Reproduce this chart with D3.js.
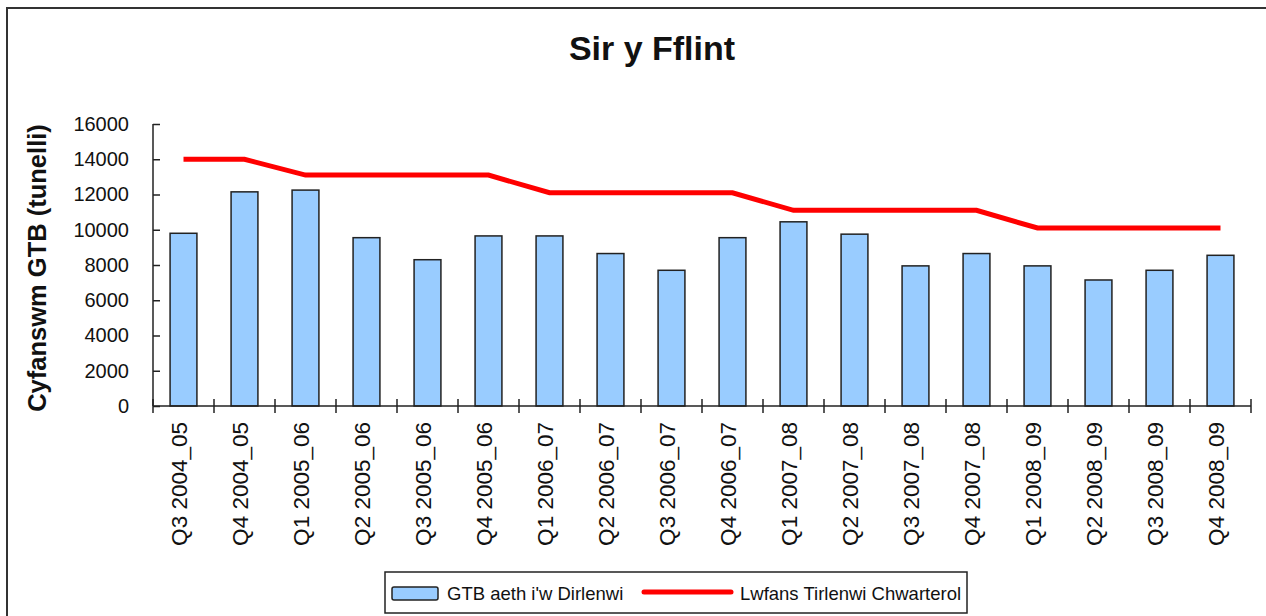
<!DOCTYPE html>
<html>
<head>
<meta charset="utf-8">
<script src="https://cdn.jsdelivr.net/npm/d3@7"></script>
<style>
  body { margin: 0; background: #fff; }
  svg text { font-family: "Liberation Sans", Arial, sans-serif; fill: #111; }
</style>
</head>
<body>
<div id="chart"></div>
<script>
// quarters on the x axis
var quarters = [
  "Q3 2004_05", "Q4 2004_05", "Q1 2005_06", "Q2 2005_06", "Q3 2005_06", "Q4 2005_06",
  "Q1 2006_07", "Q2 2006_07", "Q3 2006_07", "Q4 2006_07", "Q1 2007_08", "Q2 2007_08",
  "Q3 2007_08", "Q4 2007_08", "Q1 2008_09", "Q2 2008_09", "Q3 2008_09", "Q4 2008_09"
];

// GTB sent to landfill (bars)
var gtbValues = [9800, 12150, 12250, 9550, 8300, 9650, 9650, 8650, 7700,
                 9550, 10450, 9750, 7950, 8650, 7950, 7150, 7700, 8550];

// quarterly landfill allowance (red line)
var allowanceValues = [14000, 14000, 13100, 13100, 13100, 13100, 12100, 12100, 12100,
                       12100, 11100, 11100, 11100, 11100, 10100, 10100, 10100, 10100];

var yTicks = [0, 2000, 4000, 6000, 8000, 10000, 12000, 14000, 16000];

var width = 1266, height = 616;
var margin = { top: 124, right: 15, bottom: 210, left: 153 };
var plotW = 1251 - margin.left, plotH = 406 - margin.top;

var svg = d3.select("#chart").append("svg")
  .attr("width", width)
  .attr("height", height);

// outer frame (right and bottom run off the picture)
svg.append("rect")
  .attr("x", 7).attr("y", 8)
  .attr("width", 1300).attr("height", 700)
  .attr("fill", "none").attr("stroke", "#333").attr("stroke-width", 2);

// title
svg.append("text")
  .attr("x", 652).attr("y", 60)
  .attr("text-anchor", "middle")
  .style("font-size", "34px").style("font-weight", "bold")
  .text("Sir y Fflint");

var g = svg.append("g")
  .attr("transform", "translate(" + margin.left + "," + margin.top + ")");

// scales
var x = d3.scaleBand().domain(quarters).range([0, plotW]).padding(0);
var y = d3.scaleLinear().domain([0, 16000]).range([plotH, 0]);
var barW = x.bandwidth() * 0.44;

// bars
g.selectAll("rect.bar")
  .data(gtbValues)
  .join("rect")
  .attr("class", "bar")
  .attr("x", (d, i) => x(quarters[i]) + (x.bandwidth() - barW) / 2)
  .attr("y", d => y(d))
  .attr("width", barW)
  .attr("height", d => plotH - y(d))
  .attr("fill", "#99ccff")
  .attr("stroke", "#222")
  .attr("stroke-width", 1.5);

// allowance line
g.append("path")
  .datum(allowanceValues)
  .attr("fill", "none")
  .attr("stroke", "#ff0000")
  .attr("stroke-width", 5)
  .attr("d", d3.line()
    .x((d, i) => x(quarters[i]) + x.bandwidth() / 2)
    .y(d => y(d)));

// y axis
var yAxis = d3.axisLeft(y).tickValues(yTicks).tickSize(7).tickPadding(17)
  .tickFormat(d3.format("d"));
var yG = g.append("g").attr("class", "y-axis").call(yAxis);
yG.selectAll(".tick line").attr("x2", 7);
yG.select(".domain").attr("d", "M0," + plotH + "V0");
yG.selectAll("line, path").attr("stroke", "#222").attr("stroke-width", 1.5);
yG.selectAll("text")
  .style("font-size", "20px")
  .style("font-family", "'Liberation Sans', Arial, sans-serif")
  .attr("fill", "#111");

// x axis, ticks at category boundaries crossing the axis
var xG = g.append("g").attr("class", "x-axis")
  .attr("transform", "translate(0," + plotH + ")");
xG.append("line")
  .attr("x1", 0).attr("x2", plotW)
  .attr("stroke", "#222").attr("stroke-width", 1.5);
xG.selectAll("line.tick")
  .data(d3.range(quarters.length + 1))
  .join("line")
  .attr("class", "tick")
  .attr("x1", i => i * x.step()).attr("x2", i => i * x.step())
  .attr("y1", -7).attr("y2", 7)
  .attr("stroke", "#222").attr("stroke-width", 1.5);

xG.selectAll("text.label")
  .data(quarters)
  .join("text")
  .attr("class", "label")
  .attr("text-anchor", "end")
  .attr("transform", d => "translate(" + (x(d) + x.bandwidth() / 2 + 3) + ",16) rotate(-90)")
  .style("font-size", "22.5px")
  .text(d => d);

// y axis label
svg.append("text")
  .attr("transform", "translate(46,268) rotate(-90)")
  .attr("text-anchor", "middle")
  .style("font-size", "25.5px").style("font-weight", "bold")
  .text("Cyfanswm GTB (tunelli)");

// legend
var legend = svg.append("g").attr("class", "legend");
legend.append("rect")
  .attr("x", 385).attr("y", 572).attr("width", 582).attr("height", 41)
  .attr("fill", "#fff").attr("stroke", "#222").attr("stroke-width", 1.5);
legend.append("rect")
  .attr("x", 392).attr("y", 587).attr("width", 46).attr("height", 13)
  .attr("rx", 2)
  .attr("fill", "#99ccff").attr("stroke", "#222").attr("stroke-width", 1.5);
legend.append("text")
  .attr("x", 447).attr("y", 600)
  .style("font-size", "18.5px")
  .text("GTB aeth i'w Dirlenwi");
legend.append("line")
  .attr("x1", 644).attr("x2", 731).attr("y1", 592).attr("y2", 592)
  .attr("stroke", "#ff0000").attr("stroke-width", 5).attr("stroke-linecap", "round");
legend.append("text")
  .attr("x", 740).attr("y", 600)
  .style("font-size", "18.5px")
  .text("Lwfans Tirlenwi Chwarterol");
</script>
</body>
</html>
